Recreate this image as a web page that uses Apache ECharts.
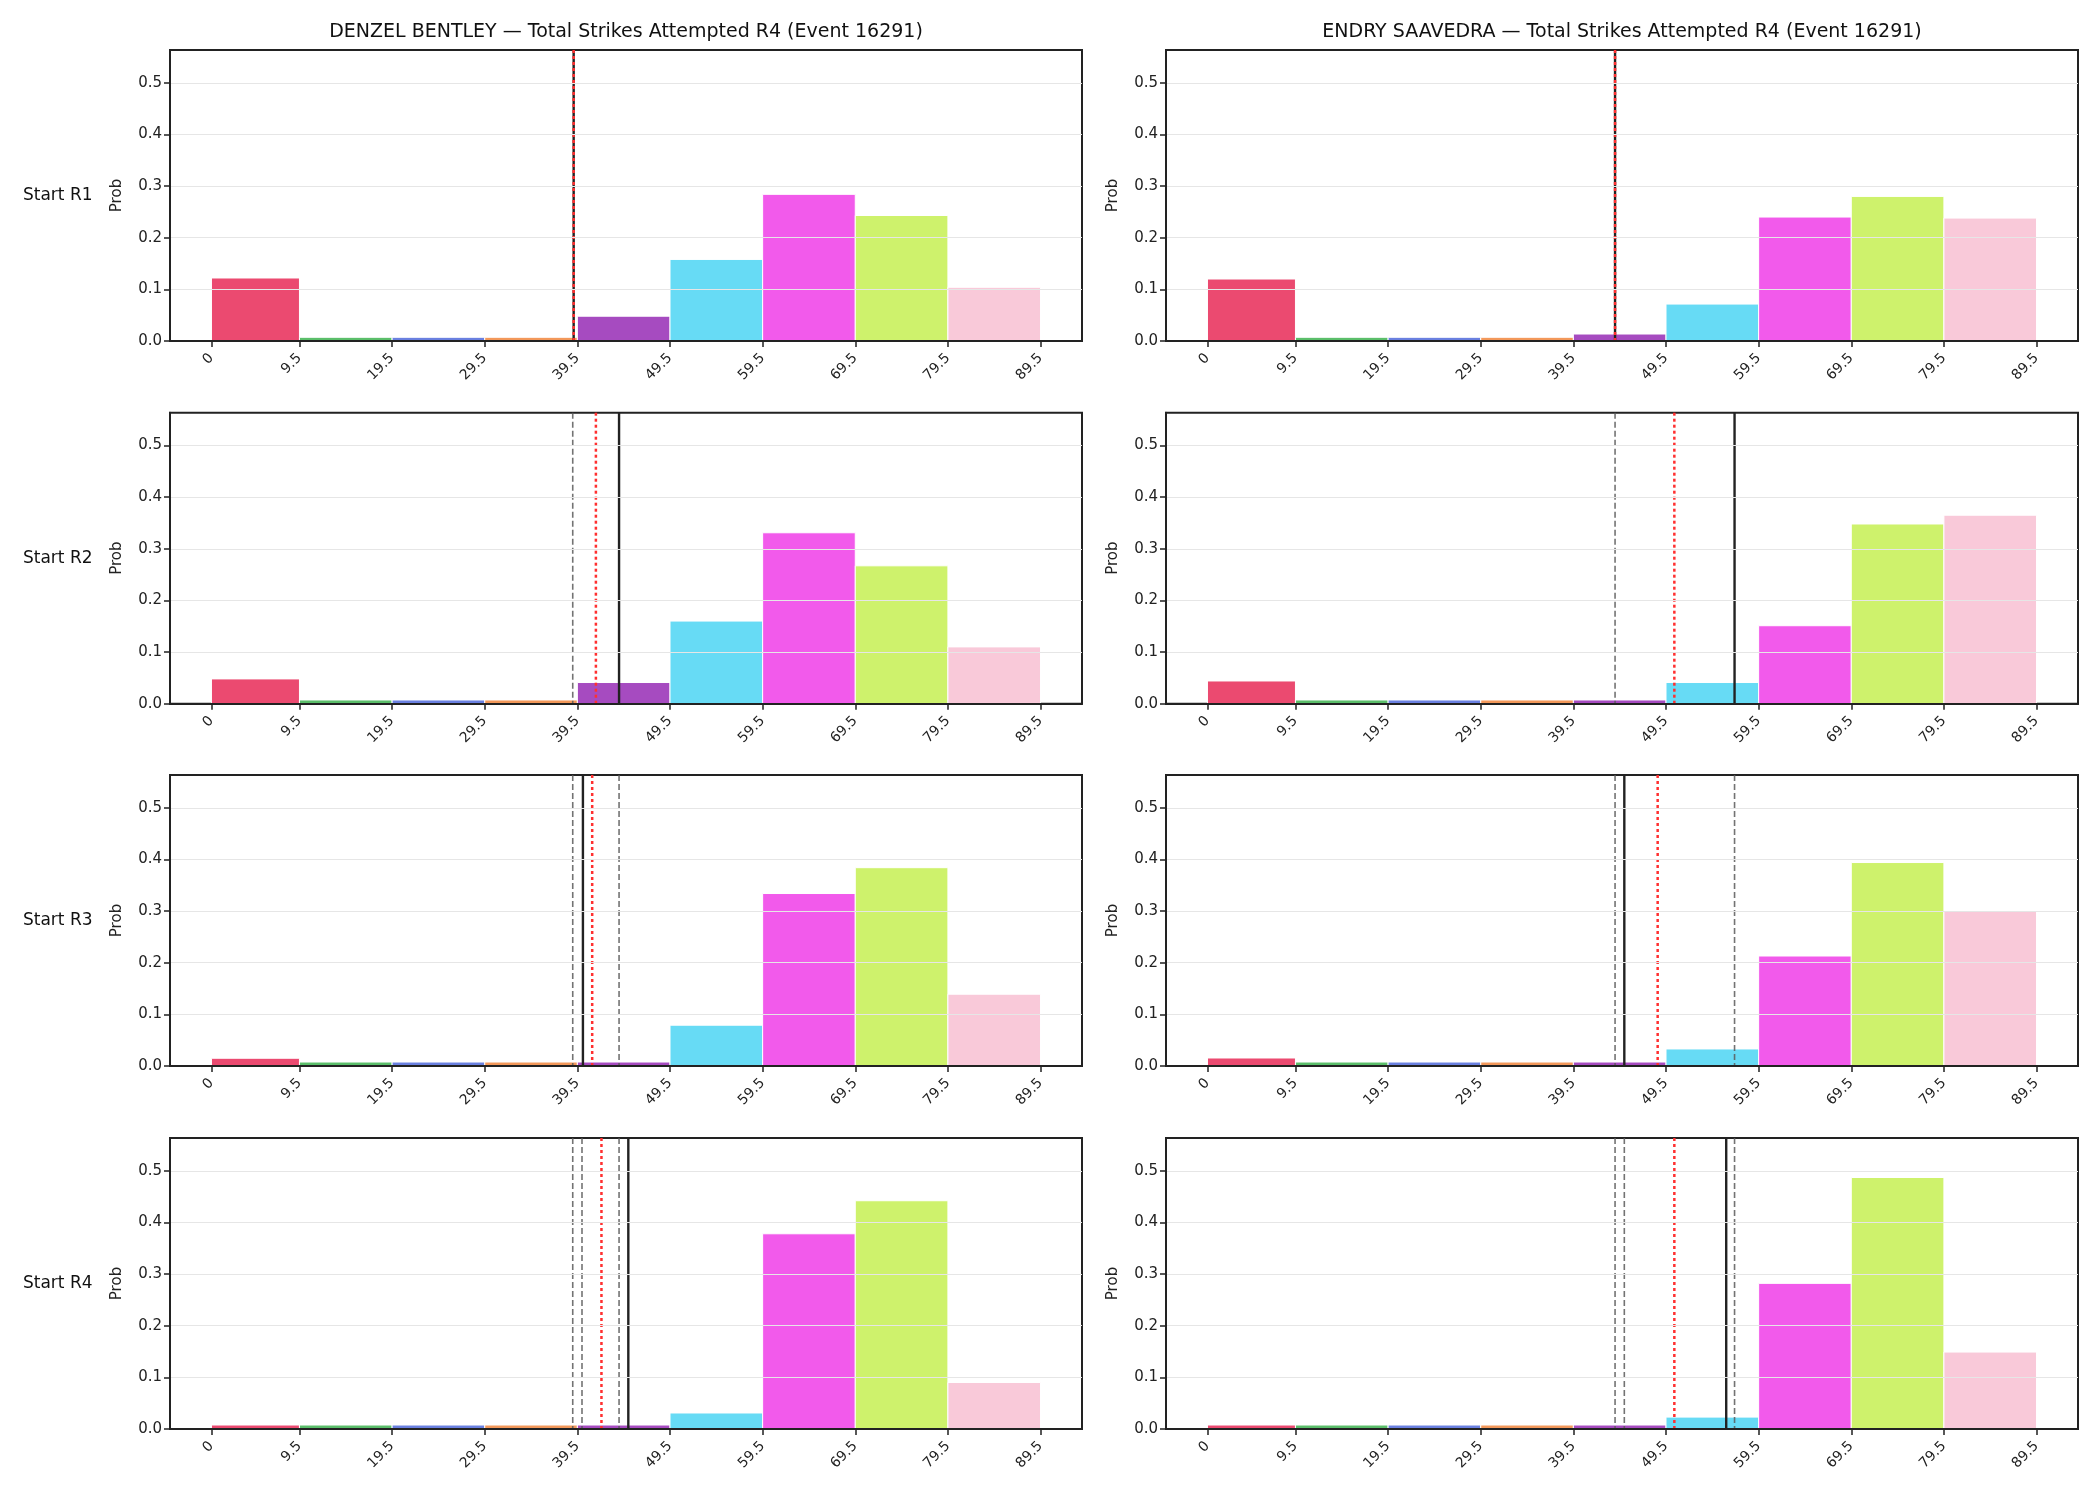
<!DOCTYPE html>
<html>
<head>
<meta charset="utf-8">
<script src="https://cdn.jsdelivr.net/npm/echarts@6/dist/echarts.min.js"></script>
<style>
  html, body { margin: 0; padding: 0; background: #fff; }
  #chart { width: 2100px; height: 1500px; }
</style>
</head>
<body>
<div id="chart"></div>
<script>
// bin edges = x tick labels
const binEdges = [0, 9.5, 19.5, 29.5, 39.5, 49.5, 59.5, 69.5, 79.5, 89.5];
const yTicks = [0, 0.1, 0.2, 0.3, 0.4, 0.5];
const roundLabels = ['Start R1', 'Start R2', 'Start R3', 'Start R4'];
const players = ['DENZEL BENTLEY', 'ENDRY SAAVEDRA'];

// probabilities per bin, one row per round
const bentleyProbs = [
  [0.122, 0.0072, 0.0072, 0.0072, 0.048, 0.158, 0.284, 0.243, 0.104],
  [0.048, 0.0072, 0.0072, 0.0072, 0.041, 0.160, 0.331, 0.267, 0.110],
  [0.015, 0.0077, 0.0077, 0.0077, 0.0077, 0.079, 0.334, 0.384, 0.139],
  [0.0077, 0.0077, 0.0077, 0.0077, 0.0077, 0.031, 0.378, 0.442, 0.090]
];
const saavedraProbs = [
  [0.120, 0.0072, 0.0072, 0.0072, 0.0135, 0.0715, 0.240, 0.280, 0.238],
  [0.044, 0.0072, 0.0072, 0.0072, 0.0072, 0.041, 0.151, 0.348, 0.365],
  [0.0155, 0.0077, 0.0077, 0.0077, 0.0077, 0.033, 0.213, 0.394, 0.300],
  [0.0077, 0.0077, 0.0077, 0.0077, 0.0077, 0.023, 0.282, 0.487, 0.149]
];

// vertical markers: solid black, red dotted, grey dashed
const bentleySolid = [39.1, 44.0, 40.1, 45.0];
const bentleyDotted = [39.1, 41.5, 41.1, 42.1];
const bentleyDashed = [[], [39.0], [39.0, 44.0], [39.0, 40.0, 44.0]];
const saavedraSolid = [44.0, 56.9, 45.0, 56.0];
const saavedraDotted = [44.0, 50.4, 48.6, 50.4];
const saavedraDashed = [[], [44.0], [44.0, 56.9], [44.0, 45.0, 56.9]];

const binColors = ['#eb4a70', '#5bbe6a', '#6a80e0', '#f3985a', '#a64bc0',
                   '#67dbf5', '#f25aeb', '#cef26c', '#f9c9d9'];
const font = 'DejaVu Sans';
const xMin = -4.475, xMax = 93.975, yMax = 0.5635;

const chart = echarts.init(document.getElementById('chart'));

const colLeft = [170, 1166];
const panelW = 912, panelH = 291;
const rowTop = [50, 412.7, 775, 1138];

const grids = [], xAxes = [], yAxes = [], series = [], graphics = [];

function barItem(params, api) {
  const a = api.coord([api.value(0), api.value(2)]);
  const b = api.coord([api.value(1), 0]);
  return {
    type: 'rect',
    shape: { x: a[0], y: a[1], width: b[0] - a[0], height: b[1] - a[1] },
    style: { fill: binColors[params.dataIndex], stroke: '#ffffff', lineWidth: 1 }
  };
}

function vline(stroke, width, dash) {
  return function (params, api) {
    const x = api.value(0);
    const t = api.coord([x, yMax]);
    const b = api.coord([x, 0]);
    return {
      type: 'line',
      shape: { x1: t[0], y1: t[1], x2: b[0], y2: b[1] },
      style: { stroke: stroke, lineWidth: width, lineDash: dash }
    };
  };
}

const allProbs = [bentleyProbs, saavedraProbs];
const allSolid = [bentleySolid, saavedraSolid];
const allDotted = [bentleyDotted, saavedraDotted];
const allDashed = [bentleyDashed, saavedraDashed];

for (let r = 0; r < 4; r++) {
  for (let c = 0; c < 2; c++) {
    const idx = grids.length;
    grids.push({
      left: colLeft[c], top: rowTop[r], width: panelW, height: panelH,
      show: true, borderColor: '#222', borderWidth: 2, backgroundColor: 'transparent'
    });
    xAxes.push({
      type: 'value', gridIndex: idx, min: xMin, max: xMax, z: 10,
      axisLine: { show: true, onZero: false, lineStyle: { color: '#222', width: 2 } },
      axisTick: { show: true, customValues: binEdges, length: 6, lineStyle: { color: '#222', width: 1.5 } },
      axisLabel: { customValues: binEdges, rotate: 45, fontSize: 14, color: '#222', fontFamily: font, margin: 15 },
      splitLine: { show: false }
    });
    yAxes.push({
      type: 'value', gridIndex: idx, min: 0, max: yMax, interval: 0.1, z: 10,
      name: 'Prob', nameLocation: 'middle', nameGap: 45,
      nameTextStyle: { fontSize: 15, color: '#222', fontFamily: font },
      axisLine: { show: true, onZero: false, lineStyle: { color: '#222', width: 2 } },
      axisTick: { show: true, customValues: yTicks, length: 6, lineStyle: { color: '#222', width: 1.5 } },
      axisLabel: { customValues: yTicks, fontSize: 15, color: '#222', fontFamily: font, margin: 8,
                   formatter: v => v.toFixed(1) },
      splitLine: { show: true, lineStyle: { color: '#e6e6e6', width: 1 } }
    });
    const probs = allProbs[c][r];
    series.push({
      type: 'custom', xAxisIndex: idx, yAxisIndex: idx, renderItem: barItem,
      encode: { x: [0, 1], y: 2 }, silent: true, z: 2,
      data: probs.map((p, i) => [binEdges[i], binEdges[i + 1], p])
    });
    series.push({
      type: 'custom', xAxisIndex: idx, yAxisIndex: idx, z: 3, silent: true,
      renderItem: vline('rgba(90,90,90,0.85)', 1.6, [6, 3]),
      encode: { x: 0, y: 1 },
      data: allDashed[c][r].map(v => [v, 0])
    });
    series.push({
      type: 'custom', xAxisIndex: idx, yAxisIndex: idx, z: 4, silent: true,
      renderItem: vline('#222222', 2.4, null),
      encode: { x: 0, y: 1 },
      data: [[allSolid[c][r], 0]]
    });
    series.push({
      type: 'custom', xAxisIndex: idx, yAxisIndex: idx, z: 5, silent: true,
      renderItem: vline('#ff3030', 2.5, [3, 3]),
      encode: { x: 0, y: 1 },
      data: [[allDotted[c][r], 0]]
    });
  }
  graphics.push({
    type: 'text', left: 23, top: rowTop[r] + panelH / 2 - 8,
    style: { text: roundLabels[r], font: '17px "DejaVu Sans"', fill: '#111' }
  });
}

for (let c = 0; c < 2; c++) {
  graphics.push({
    type: 'text', x: colLeft[c] + panelW / 2, y: 32,
    style: {
      text: players[c] + ' \u2014 Total Strikes Attempted R4 (Event 16291)',
      font: '19px "DejaVu Sans"', fill: '#111', align: 'center', verticalAlign: 'middle'
    }
  });
}

chart.setOption({
  animation: false,
  backgroundColor: '#ffffff',
  grid: grids,
  xAxis: xAxes,
  yAxis: yAxes,
  series: series,
  graphic: graphics
});
</script>
</body>
</html>
